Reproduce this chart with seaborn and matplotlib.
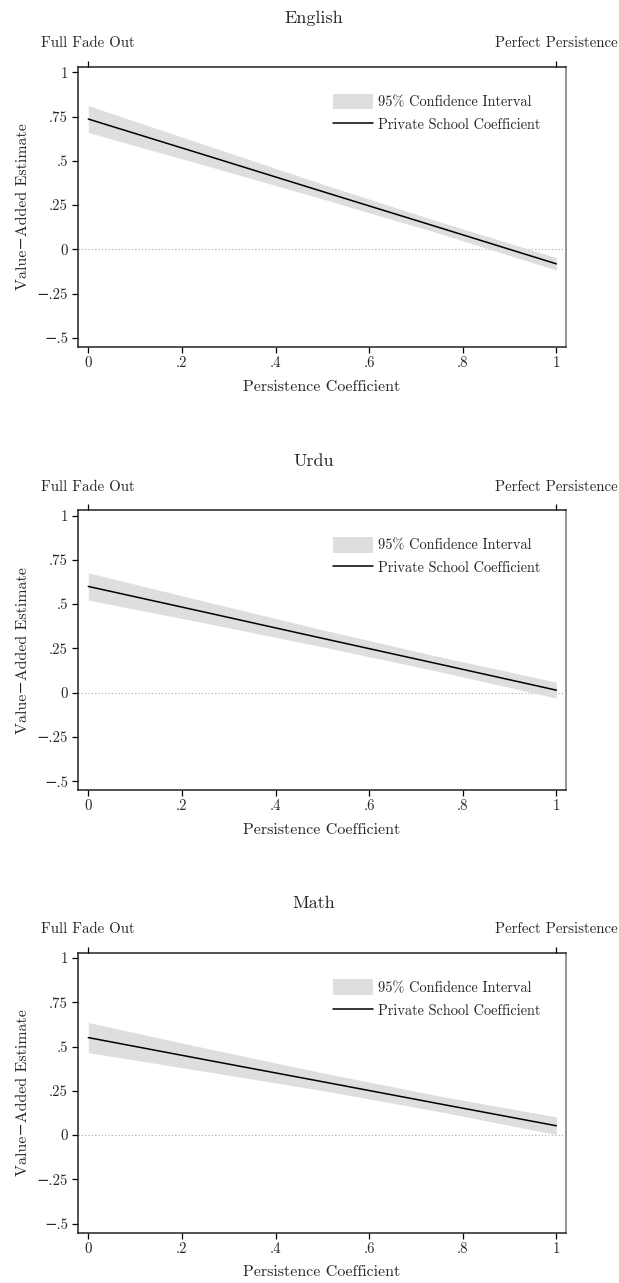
import numpy as np
import pandas as pd
import matplotlib
matplotlib.use("Agg")
import matplotlib.pyplot as plt
from matplotlib.patches import Patch
from matplotlib.lines import Line2D
import seaborn as sns

# ---- data ----
persistence = [0.0, 0.25, 0.5, 0.75, 1.0]
subjects = ["English", "Urdu", "Math"]

english_est = [0.736, 0.532, 0.327, 0.123, -0.082]
english_lo = [0.660, 0.474, 0.285, 0.090, -0.117]
english_hi = [0.812, 0.590, 0.369, 0.156, -0.047]

urdu_est = [0.600, 0.454, 0.307, 0.161, 0.014]
urdu_lo = [0.523, 0.393, 0.259, 0.119, -0.031]
urdu_hi = [0.677, 0.515, 0.355, 0.203, 0.059]

math_est = [0.551, 0.426, 0.302, 0.177, 0.053]
math_lo = [0.466, 0.360, 0.252, 0.133, 0.003]
math_hi = [0.636, 0.492, 0.352, 0.221, 0.103]

x_ticks = [0, 0.2, 0.4, 0.6, 0.8, 1]
x_ticklabels = ["0", ".2", ".4", ".6", ".8", "1"]
y_ticks = [-0.5, -0.25, 0, 0.25, 0.5, 0.75, 1]
y_ticklabels = ["\u2212.5", "\u2212.25", "0", ".25", ".5", ".75", "1"]
top_labels = ["Full Fade Out", "Perfect Persistence"]

series = {
    "English": (english_est, english_lo, english_hi),
    "Urdu": (urdu_est, urdu_lo, urdu_hi),
    "Math": (math_est, math_lo, math_hi),
}

sns.set_theme(style="white")
plt.rcParams["font.family"] = ["cmr10", "DejaVu Serif"]
plt.rcParams["axes.unicode_minus"] = False

W, H = 619, 1283
fig = plt.figure(figsize=(W / 100, H / 100), dpi=100)

left_px, right_px = 77.7, 565.7
ax_h_px = 279.7
bottoms_px = [346.7, 790.0, 1232.5]

band_color = "#dedede"
tick_fs = 10.7
legend_fs = 10.3
label_fs = 11.5
title_fs = 13

for subj, bot in zip(subjects, bottoms_px):
    est, lo, hi = series[subj]
    df = pd.DataFrame({"persistence": persistence, "estimate": est, "lo": lo, "hi": hi})
    ax = fig.add_axes([left_px / W, 1 - bot / H, (right_px - left_px) / W, ax_h_px / H])
    ax.fill_between(df["persistence"], df["lo"], df["hi"], color=band_color, linewidth=0, zorder=1)
    ax.axhline(0, color="#a8a8a8", linestyle=(0, (1, 2)), linewidth=0.8, zorder=0)
    sns.lineplot(data=df, x="persistence", y="estimate", ax=ax, color="black",
                 linewidth=1.1, zorder=3, legend=False)
    ax.set_xlim(-0.0226, 1.02)
    ax.set_ylim(-0.55, 1.03)
    ax.set_xticks(x_ticks)
    ax.set_xticklabels(x_ticklabels, fontsize=tick_fs)
    ax.set_yticks(y_ticks)
    ax.set_yticklabels(y_ticklabels, fontsize=tick_fs)
    ax.tick_params(axis="both", direction="out", length=4, width=0.9, color="black",
                   bottom=True, left=True, pad=3)
    ax.set_xlabel("Persistence Coefficient", fontsize=label_fs, labelpad=7)
    ax.set_ylabel("Value\u2212Added Estimate", fontsize=label_fs, labelpad=5)
    for s in ax.spines.values():
        s.set_color("#222222")
        s.set_linewidth(1.1)
    ax.spines["right"].set_color("#777777")

    top = ax.twiny()
    top.set_xlim(ax.get_xlim())
    top.set_xticks([0, 1])
    top.set_xticklabels(top_labels, fontsize=tick_fs)
    top.tick_params(axis="x", direction="out", length=4, width=0.9, color="black", top=True, pad=8)
    for s in top.spines.values():
        s.set_visible(False)

    handles = [Patch(facecolor=band_color, edgecolor="none"),
               Line2D([0], [0], color="black", linewidth=1.1)]
    ax.legend(handles, ["95% Confidence Interval", "Private School Coefficient"],
              loc="upper left", bbox_to_anchor=(0.511, 0.925), frameon=False,
              fontsize=legend_fs, handlelength=2.8, handleheight=1.3, labelspacing=0.5,
              handletextpad=0.35, borderaxespad=0)

    title_y_px = bot - ax_h_px - 49
    fig.text(314 / W, 1 - title_y_px / H, subj, ha="center", va="center", fontsize=title_fs)

fig.savefig("out.png", dpi=100)
